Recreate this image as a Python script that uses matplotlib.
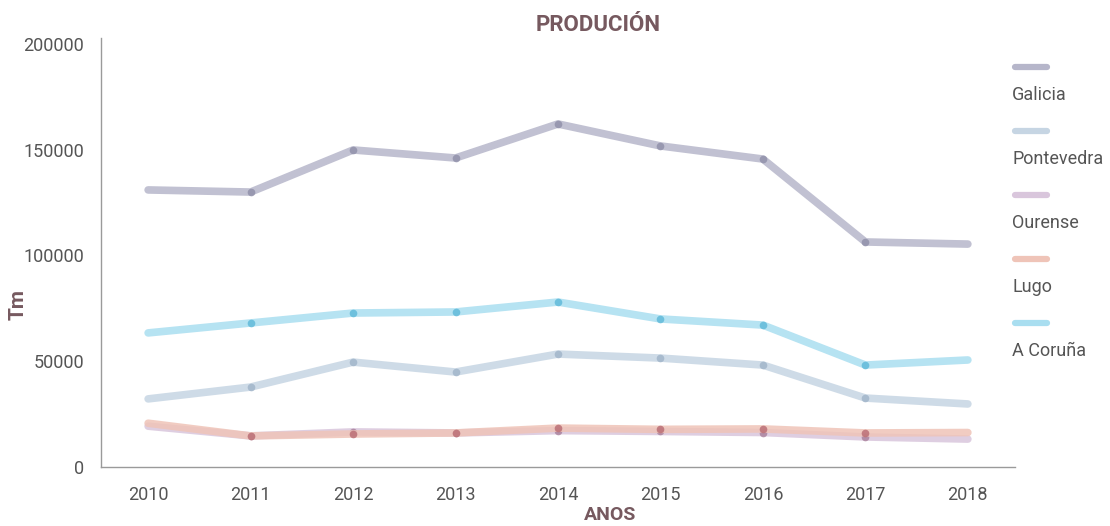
import numpy as np
import matplotlib
matplotlib.use('Agg')
import matplotlib.pyplot as plt
from matplotlib.lines import Line2D

plt.rcParams['font.family'] = ['Roboto', 'DejaVu Sans']

years = [2010, 2011, 2012, 2013, 2014, 2015, 2016, 2017, 2018]
galicia = [131000, 130000, 149900, 146100, 162200, 151800, 145600, 106400, 105400]
pontevedra = [32200, 37800, 49600, 44900, 53400, 51500, 48200, 32600, 29800]
ourense = [19300, 14700, 16600, 16100, 17200, 16800, 16300, 14200, 13200]
lugo = [20700, 14700, 15600, 16100, 18400, 17800, 18000, 16100, 16300]
coruna = [63400, 68100, 72800, 73300, 78000, 70000, 67100, 48200, 50600]

names = ['Galicia', 'Pontevedra', 'Ourense', 'Lugo', 'A Coruña']
series = [galicia, pontevedra, ourense, lugo, coruna]
colors = ['#b6b6ca', '#c6d5e3', '#d9c6dc', '#efc4b8', '#a9def0']
mcolors = ['#8e8ea8', '#9fb3c8', '#a87f9a', '#b86a72', '#5cb8d8']

fig = plt.figure(figsize=(11.1, 5.26), dpi=100)
ax = fig.add_axes([101/1110, 1-467/526, (1015-101)/1110, (467-44)/526])

for vals, c, mc in zip(series, colors, mcolors):
    ax.plot(years, vals, color=c, lw=5.5, alpha=0.85, solid_capstyle='round',
            solid_joinstyle='round')
    ax.plot(years[1:-1], vals[1:-1], 'o', color=mc, ms=5.5, alpha=0.8,
            markeredgewidth=0)

ax.set_xlim(2010 - 0.46, 2018 + 0.46)
ax.set_ylim(0, 200000)
ax.set_yticks([0, 50000, 100000, 150000, 200000])
ax.set_xticks(years)
ax.tick_params(length=0, labelsize=13, colors='#555555', pad=12)
ax.tick_params(axis='x', pad=14)
for s in ['top', 'right']:
    ax.spines[s].set_visible(False)
for s in ['left', 'bottom']:
    ax.spines[s].set_color('#9a9a9a')
    ax.spines[s].set_linewidth(1)
ax.spines['left'].set_bounds(0, 203000)

title_c = '#76595f'
fig.text(598/1110, 1-25/526, 'PRODUCIÓN', ha='center', va='center',
         fontsize=16, fontweight='bold', color=title_c)
fig.text(610/1110, 1-515/526, 'ANOS', ha='center', va='center',
         fontsize=14, fontweight='bold', color=title_c)
fig.text(18/1110, 1-305/526, 'Tm', ha='center', va='center', rotation=90,
         fontsize=15, fontweight='bold', color=title_c)

# legend drawn at right
for i, (n, c) in enumerate(zip(names, colors)):
    ly = 1 - (67 + 64 * i) / 526
    fig.add_artist(Line2D([1015/1110, 1047/1110], [ly, ly], color=c, lw=4.5,
                          solid_capstyle='round', transform=fig.transFigure))
    fig.text(1012/1110, 1 - (95 + 64 * i) / 526, n, ha='left', va='center',
             fontsize=13, color='#555555')

fig.savefig('out.png', dpi=100)
